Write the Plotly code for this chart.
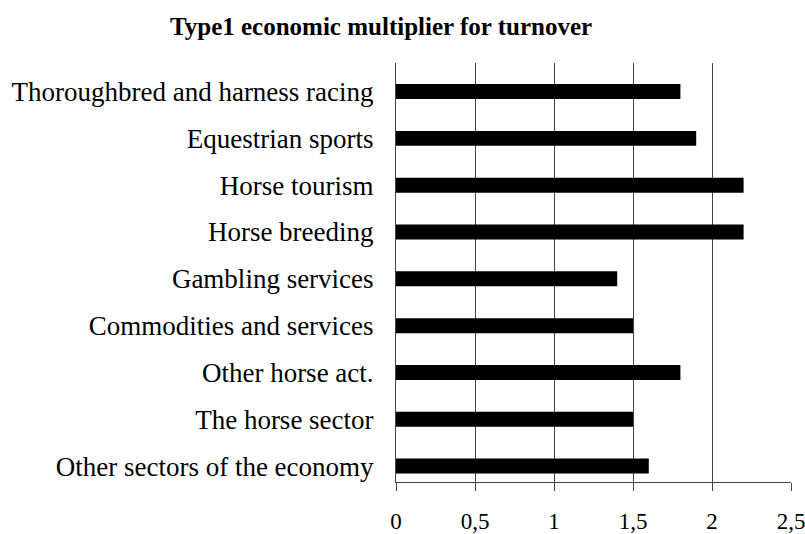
import plotly.graph_objects as go

categories = [
    "Thoroughbred and harness racing",
    "Equestrian sports",
    "Horse tourism",
    "Horse breeding",
    "Gambling services",
    "Commodities and services",
    "Other horse act.",
    "The horse sector",
    "Other sectors of the economy",
]
values = [1.8, 1.9, 2.2, 2.2, 1.4, 1.5, 1.8, 1.5, 1.6]
tick_vals = [0, 0.5, 1, 1.5, 2, 2.5]
tick_text = ["0", "0,5", "1", "1,5", "2", "2,5"]
title_text = "Type1 economic multiplier for turnover"

FONT = "Liberation Serif"

fig = go.Figure(
    go.Bar(
        x=values,
        y=categories,
        orientation="h",
        marker=dict(color="black", line=dict(width=0)),
        width=0.32,
    )
)

fig.update_layout(
    width=805,
    height=534,
    margin=dict(l=396, r=14, t=63, b=52, autoexpand=False),
    paper_bgcolor="white",
    plot_bgcolor="white",
    showlegend=False,
    font=dict(family=FONT, color="black"),
    title=dict(
        text="<b>" + title_text + "</b>",
        font=dict(family=FONT, size=25, color="black"),
        x=381 / 805,
        xanchor="center",
        xref="container",
        yref="container",
        y=1 - 26 / 534,
        yanchor="middle",
        automargin=False,
    ),
)

fig.update_xaxes(
    range=[0, 2.5],
    tickvals=tick_vals,
    ticktext=tick_text,
    tickfont=dict(family=FONT, size=23, color="black"),
    showgrid=True,
    gridcolor="#444444",
    gridwidth=1,
    showline=True,
    linecolor="#444444",
    linewidth=1,
    ticks="outside",
    ticklen=8,
    tickcolor="#444444",
    zeroline=False,
    ticklabelstandoff=10,
    ticklabeloverflow="allow",
    automargin=False,
)

fig.update_yaxes(
    type="category",
    categoryorder="array",
    categoryarray=categories,
    range=[8.34, -0.61],
    tickfont=dict(family=FONT, size=27, color="black"),
    showgrid=False,
    showline=True,
    linecolor="#444444",
    linewidth=1,
    ticks="",
    ticklabelstandoff=16,
    zeroline=False,
    automargin=False,
)

fig.write_html(
    "out.html",
    config={"displayModeBar": False},
    post_script="document.body.style.margin='0';document.body.style.padding='0';",
)
